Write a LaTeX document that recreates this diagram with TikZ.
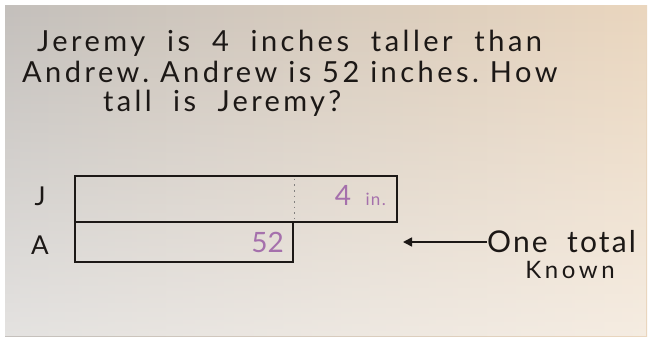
\documentclass[tikz,border=0pt]{standalone}
\usepackage{fontspec}
\setmainfont{Lato}
\usetikzlibrary{arrows.meta,positioning,fadings}
\definecolor{inkblack}{RGB}{28,24,22}
\definecolor{inkpurple}{RGB}{165,112,172}
\definecolor{paperleft}{RGB}{196,192,188}
\definecolor{paperright}{RGB}{234,214,190}

\begin{document}
\begin{tikzpicture}[x=1pt,y=-1pt,hand/.style={font=\fontsize{29}{34}\selectfont,text=inkblack,inner sep=0pt,anchor=base west},bar/.style={draw=inkblack,line width=2.6pt,inner sep=0pt},tag/.style={font=\fontsize{28}{32}\selectfont,text=inkblack,inner sep=0pt},num/.style={font=\fontsize{28}{32}\selectfont,text=inkpurple,inner sep=0pt},arr/.style={-{Triangle[length=9pt,width=9pt]},line width=1.6pt,draw=inkblack}]

\useasboundingbox (0,0) rectangle (651,337);
\fill[white] (0,0) rectangle (651,337);
\shade[left color=paperleft,right color=paperright] (5,6) rectangle (647,336);
\fill[white,opacity=.55,path fading=north] (5,6) rectangle (647,336);

\node[hand] (line1) at (37,52) {\addfontfeature{LetterSpace=12}Jeremy\ \ is\ \ 4\ \ inches\ \ taller\ \ than};
\node[hand] (line2) at (22,82) {\addfontfeature{LetterSpace=12}Andrew.\ Andrew\ is\ 52\ inches.\ How};
\node[hand] (line3) at (103,111) {\addfontfeature{LetterSpace=11.5}tall\ \ is\ \ Jeremy?};

\node[bar,minimum width=322pt,minimum height=46pt] (jbox) at (236,199) {};
\node[bar,minimum width=218pt,minimum height=40pt] (abox) at (184,242) {};
\draw[inkblack!55,line width=1.6pt,dash pattern=on 1.6pt off 4pt] ([yshift=-4pt]jbox.north -| abox.east) -- ([yshift=4pt]jbox.south -| abox.east);

\node[tag,font=\fontsize{26}{30}\selectfont] (jlabel) at (40,196) {J};
\node[tag,font=\fontsize{26}{30}\selectfont] (alabel) at (40,245) {A};
\node[num,anchor=east] (extra) at (386,196) {4\ \ {\fontsize{17}{20}\selectfont\addfontfeature{LetterSpace=8}in.}};
\node[num,anchor=east] (total) at (284,242) {52};

\coordinate (tip) at (403,242);
\node[tag,font=\fontsize{30}{34}\selectfont,anchor=west] (note) at (487,242) {\addfontfeature{LetterSpace=7}One\ \ total};
\node[tag,font=\fontsize{24}{28}\selectfont] (known) at (570,270) {\addfontfeature{LetterSpace=15}Known};
\draw[arr] (note.west) -- (tip);
\end{tikzpicture}
\end{document}
